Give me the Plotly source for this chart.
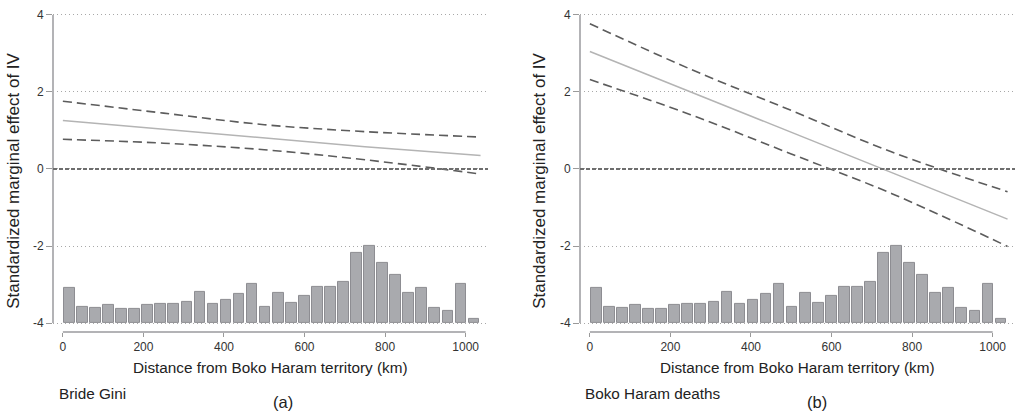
import plotly.graph_objects as go

# Distance grid (km) at which the marginal effects are shown
dist_km = [0, 250, 500, 750, 1037]

# Panel (a): Bride Gini
gini_effect = [1.26, 1.03, 0.80, 0.58, 0.35]
gini_upper = [1.76, 1.45, 1.15, 0.97, 0.83]
gini_lower = [0.77, 0.67, 0.50, 0.24, -0.13]

# Panel (b): Boko Haram deaths
deaths_effect = [3.05, 2.00, 0.95, -0.11, -1.30]
deaths_upper = [3.77, 2.59, 1.52, 0.44, -0.59]
deaths_lower = [2.32, 1.41, 0.39, -0.64, -2.01]

# Distribution of observations by distance (bar heights above the -4 baseline)
bin_width_km = 32.4
hist_height = [0.91, 0.42, 0.39, 0.47, 0.36, 0.37, 0.47, 0.51, 0.50, 0.55,
               0.81, 0.51, 0.60, 0.77, 1.01, 0.43, 0.79, 0.53, 0.70, 0.93,
               0.95, 1.07, 1.83, 2.00, 1.55, 1.25, 0.78, 0.91, 0.39, 0.32,
               1.01, 0.11]
hist_base = -4

y_ticks = [-4, -2, 0, 2, 4]
y_tick_text = ["-4", "-2", "0", "2", "4"]
x_ticks = [0, 200, 400, 600, 800, 1000]

panels = [
    dict(effect=gini_effect, upper=gini_upper, lower=gini_lower,
         label="Bride Gini", tag="(a)"),
    dict(effect=deaths_effect, upper=deaths_upper, lower=deaths_lower,
         label="Boko Haram deaths", tag="(b)"),
]

W, H = 1019, 414
FONT = "Liberation Sans, Arial, Helvetica, sans-serif"
AXIS_GRAY = "#b3b3b6"
DASH_GRAY = "#5c5c5c"

# pixel geometry of the two plot areas
x_domains_px = [(53, 488), (580, 1015)]
plot_top_px, plot_bottom_px = 8, 331
y_range = [-4 - 9 / 39, 4 + 2 / 39]
x_range = [-24.5, 1055.5]

bin_centers = [bin_width_km * (i + 0.5) for i in range(len(hist_height))]

fig = go.Figure()
annotations = []
shapes = []

for k, p in enumerate(panels):
    xa = "x" if k == 0 else "x2"
    ya = "y" if k == 0 else "y2"
    xname = "xaxis" if k == 0 else "xaxis2"
    yname = "yaxis" if k == 0 else "yaxis2"

    fig.add_trace(go.Bar(
        x=bin_centers, y=hist_height, base=hist_base, width=26.5,
        marker=dict(color="#a9aaae", line=dict(color="#8d8d92", width=1)),
        xaxis=xa, yaxis=ya, hoverinfo="skip"))

    fig.add_trace(go.Scatter(
        x=dist_km, y=p["upper"], mode="lines", line_shape="spline",
        line=dict(color=DASH_GRAY, width=1.6, dash="9px,5px"),
        xaxis=xa, yaxis=ya))
    fig.add_trace(go.Scatter(
        x=dist_km, y=p["lower"], mode="lines", line_shape="spline",
        line=dict(color=DASH_GRAY, width=1.6, dash="9px,5px"),
        xaxis=xa, yaxis=ya))
    fig.add_trace(go.Scatter(
        x=dist_km, y=p["effect"], mode="lines",
        line=dict(color="#b4b4b4", width=1.5),
        xaxis=xa, yaxis=ya))

    x0px, x1px = x_domains_px[k]
    fig.update_layout(**{
        xname: dict(
            domain=[x0px / W, x1px / W], range=x_range, anchor=ya,
            tickvals=x_ticks, ticks="outside", ticklen=4, tickwidth=1,
            tickcolor="#9a9a9a", showline=False, showgrid=False,
            zeroline=False, tickfont=dict(family=FONT, size=12, color="#333")),
        yname: dict(
            domain=[1 - plot_bottom_px / H, 1 - plot_top_px / H],
            range=y_range, anchor=xa,
            tickvals=y_ticks, ticktext=y_tick_text, ticks="outside",
            ticklen=6, tickwidth=1, tickcolor="#9a9a9a", showline=False,
            showgrid=True, gridcolor="#a8a8a8", griddash="1px,3px",
            gridwidth=1, zeroline=False,
            tickfont=dict(family=FONT, size=12, color="#333")),
    })

    # axis lines: y spans -4..4, x spans 0..1000
    shapes.append(dict(type="line", xref=f"{xa} domain", yref=ya,
                       x0=0, x1=0, y0=-4, y1=4,
                       line=dict(color=AXIS_GRAY, width=2)))
    shapes.append(dict(type="line", xref=xa, yref=f"{ya} domain",
                       x0=0, x1=1000, y0=0, y1=0,
                       line=dict(color=AXIS_GRAY, width=2)))
    # reference line at zero
    shapes.append(dict(type="line", xref=f"{xa} domain", yref=ya,
                       x0=0, x1=1, y0=0, y1=0,
                       line=dict(color="#6e6e6e", width=2, dash="4px,2px")))

    ytitle_x = 14 if k == 0 else 540
    annotations.append(dict(
        text="Standardized marginal effect of IV", textangle=-90,
        xref="paper", yref="paper", x=ytitle_x / W, y=1 - 178 / H,
        xanchor="center", yanchor="middle", showarrow=False,
        font=dict(family=FONT, size=17, color="#222")))
    annotations.append(dict(
        text="Distance from Boko Haram territory (km)",
        xref="paper", yref="paper", x=((x0px + x1px) / 2) / W,
        y=1 - 367 / H, xanchor="center", yanchor="middle", showarrow=False,
        font=dict(family=FONT, size=15.3, color="#222")))
    label_x = 57 if k == 0 else 583
    annotations.append(dict(
        text=p["label"], xref="paper", yref="paper", x=label_x / W,
        y=1 - 393 / H, xanchor="left", yanchor="middle", showarrow=False,
        font=dict(family=FONT, size=15.3, color="#222")))
    tag_x = 283 if k == 0 else 817
    annotations.append(dict(
        text=p["tag"], xref="paper", yref="paper", x=tag_x / W,
        y=1 - 402 / H, xanchor="center", yanchor="middle", showarrow=False,
        font=dict(family=FONT, size=16.5, color="#222")))

fig.update_layout(
    width=W, height=H, margin=dict(l=0, r=0, t=0, b=0),
    paper_bgcolor="white", plot_bgcolor="white", showlegend=False,
    bargap=0, shapes=shapes, annotations=annotations,
    font=dict(family=FONT, color="#222"))

fig.write_html("out.html")
